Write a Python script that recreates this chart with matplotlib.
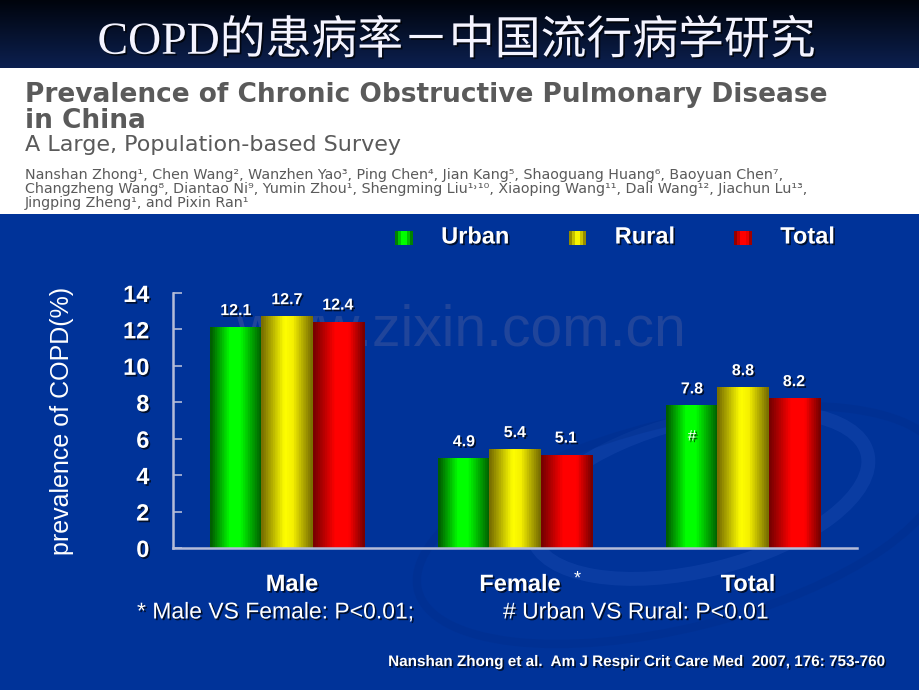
import numpy as np
import matplotlib
matplotlib.use("Agg")
import matplotlib.pyplot as plt
import matplotlib.patheffects as pe
from matplotlib import font_manager
from matplotlib.colors import LinearSegmentedColormap
from matplotlib.patches import Rectangle, Patch, Ellipse
from matplotlib.legend_handler import HandlerBase
from matplotlib.transforms import ScaledTranslation

# ---------------- data ----------------
groups = ["Male", "Female", "Total"]
series = ["Urban", "Rural", "Total"]
urban = [12.1, 4.9, 7.8]
rural = [12.7, 5.4, 8.8]
total = [12.4, 5.1, 8.2]
yticks = [0, 2, 4, 6, 8, 10, 12, 14]

BG = "#003399"
AXC = "#b4bcd8"
names = {f.name for f in font_manager.fontManager.ttflist}
NARROW = "Liberation Sans Narrow" if "Liberation Sans Narrow" in names else "Liberation Sans"
SANS = "Liberation Sans"
shadow = [pe.withSimplePatchShadow(offset=(1.2, -1.2), shadow_rgbFace="black", alpha=0.7)]

# gradient "cylinder" colour maps (dark edge -> bright centre -> dark edge)
cmaps = [
    LinearSegmentedColormap.from_list("g", [(0, "#005f00"), (0.38, "#00ff00"), (0.58, "#00ff00"), (1, "#006400")]),
    LinearSegmentedColormap.from_list("y", [(0, "#7a7000"), (0.45, "#ffff00"), (0.62, "#f5f000"), (1, "#7a7000")]),
    LinearSegmentedColormap.from_list("r", [(0, "#7a0000"), (0.42, "#ff0000"), (0.7, "#ff0000"), (1, "#7a0000")]),
]
steps = 22
grad = (np.floor(np.linspace(0, 1, 200) * steps) / (steps - 1)).clip(0, 1)[None, :]

fig = plt.figure(figsize=(9.2, 6.9), dpi=100, facecolor=BG)

# background decoration + watermark
bg = fig.add_axes([0, 0, 1, 1], zorder=-5)
bg.set_xlim(0, 920)
bg.set_ylim(690, 0)
bg.axis("off")
bg.add_patch(Ellipse((700, 495), 345, 150, angle=-14, fill=False, ec="#0d3fa5", lw=10, alpha=0.8))
bg.add_patch(Ellipse((680, 525), 540, 205, angle=-14, fill=False, ec="#002c88", lw=6, alpha=0.35))
bg.text(461, 345, "www.zixin.com.cn", ha="center", va="baseline", fontsize=41,
        color="#20459b", family=SANS)

# title band
tb = fig.add_axes([0, 1 - 68 / 690, 1, 68 / 690])
tgrad = np.linspace(0, 1, 100)[:, None]
tb.imshow(tgrad, aspect="auto", cmap=LinearSegmentedColormap.from_list("t", ["#00040c", "#0c2050"]),
          extent=[0, 1, 1, 0])
tb.axis("off")
fig.text(457 / 920, 1 - 42 / 690, "COPD的患病率－中国流行病学研究", ha="center", va="center",
         fontsize=33, color="#f4f4ff", family=["Liberation Serif", "Noto Sans CJK SC"],
         path_effects=shadow)

# paper header band
wb = fig.add_axes([0, 1 - 214 / 690, 1, 146 / 690])
wb.set_facecolor("white")
wb.set_xticks([])
wb.set_yticks([])
for s in wb.spines.values():
    s.set_visible(False)
hdr = dict(transform=fig.transFigure, color="#5a5a5a", family="DejaVu Sans", va="center")
fig.text(25 / 920, 1 - 95 / 690, "Prevalence of Chronic Obstructive Pulmonary Disease", fontsize=19,
         fontweight="bold", **hdr)
fig.text(25 / 920, 1 - 121 / 690, "in China", fontsize=19, fontweight="bold", **hdr)
fig.text(25 / 920, 1 - 145 / 690, "A Large, Population-based Survey", fontsize=16, **hdr)
authors = ["Nanshan Zhong¹, Chen Wang², Wanzhen Yao³, Ping Chen⁴, Jian Kang⁵, Shaoguang Huang⁶, Baoyuan Chen⁷,",
           "Changzheng Wang⁸, Diantao Ni⁹, Yumin Zhou¹, Shengming Liu¹˒¹⁰, Xiaoping Wang¹¹, Dali Wang¹², Jiachun Lu¹³,",
           "Jingping Zheng¹, and Pixin Ran¹"]
for i, line in enumerate(authors):
    fig.text(25 / 920, 1 - (175 + 14 * i) / 690, line, fontsize=10.3, **hdr)

# ---------------- chart ----------------
ax = fig.add_axes([173 / 920, 1 - 548 / 690, 684 / 920, 255 / 690])
ax.patch.set_visible(False)
x = np.arange(len(groups))
width = 0.2237
values = [urban, rural, total]
for k, (vals, cm) in enumerate(zip(values, cmaps)):
    bars = ax.bar(x + (k - 1) * width, vals, width, color="none", edgecolor="none", zorder=2)
    for b, v in zip(bars, vals):
        x0 = b.get_x()
        ax.imshow(grad, aspect="auto", cmap=cm, vmin=0, vmax=1,
                  extent=[x0, x0 + b.get_width(), 0, b.get_height()], zorder=2)
        ax.annotate(f"{v}", (x0 + b.get_width() / 2, v), xytext=(0, 9), textcoords="offset points",
                    ha="center", va="baseline", fontsize=11.5, fontweight="bold", color="white",
                    family=SANS, path_effects=shadow)
ax.annotate("#", (x[2] - width, urban[2]), xytext=(0, -22), textcoords="offset points",
            ha="center", va="center", fontsize=11, color="white", family=SANS, path_effects=shadow)

ax.set_xlim(-0.5, 2.5)
ax.set_ylim(0, 14)
ax.set_yticks(yticks)
ax.set_xticks(x)
ax.set_xticklabels(groups)
for s in ["top", "right"]:
    ax.spines[s].set_visible(False)
for s in ["left", "bottom"]:
    ax.spines[s].set_color(AXC)
    ax.spines[s].set_linewidth(1.8)
ax.tick_params(axis="y", direction="in", length=6.5, width=1.2, color=AXC, pad=17,
               labelsize=17, labelcolor="white")
ax.tick_params(axis="x", length=0, pad=18, labelsize=17, labelcolor="white")
off = ScaledTranslation(5 / 100, 0, fig.dpi_scale_trans)
for lab in ax.get_yticklabels() + ax.get_xticklabels():
    lab.set_fontweight("bold")
    lab.set_family(SANS)
    lab.set_path_effects(shadow)
for lab in ax.get_xticklabels():
    lab.set_transform(lab.get_transform() + off)
    lab.set_family(NARROW)
    lab.set_fontsize(19 if NARROW != SANS else 17)

fig.text(62 / 920, 1 - 421 / 690, "prevalence of COPD(%)", rotation=90, ha="center", va="center",
         fontsize=18, color="white", family=SANS)
fig.text(577 / 920, 1 - 579 / 690, "*", ha="center", va="center", fontsize=13, color="white", family=SANS)


# legend with striped squares
class GradHandler(HandlerBase):
    def __init__(self, cm):
        super().__init__()
        self.cm = cm

    def create_artists(self, legend, orig_handle, xd, yd, w, h, fontsize, trans):
        n = 6
        return [Rectangle((xd + w * i / n, yd), w / n, h, fc=self.cm((i + 0.5) / n), ec="none",
                          transform=trans) for i in range(n)]


handles = [Patch(label=s) for s in series]
leg = fig.legend(handles=handles, loc="center", bbox_to_anchor=(615 / 920, 1 - 237 / 690), ncol=3,
                 frameon=False, handler_map={h: GradHandler(c) for h, c in zip(handles, cmaps)},
                 prop=dict(family=SANS, weight="bold", size=17), handlelength=0.75, handleheight=0.55,
                 handletextpad=1.2, columnspacing=2.5)
for t in leg.get_texts():
    t.set_color("white")
    t.set_path_effects(shadow)

# footnotes
fsz = 20 if NARROW != SANS else 16.5
fig.text(137 / 920, 1 - 612 / 690, "* Male VS Female: P<0.01;", ha="left", va="center", fontsize=fsz,
         color="white", family=NARROW, path_effects=shadow)
fig.text(503 / 920, 1 - 612 / 690, "# Urban VS Rural: P<0.01", ha="left", va="center", fontsize=fsz,
         color="white", family=NARROW, path_effects=shadow)
fig.text(885 / 920, 1 - 662 / 690, "Nanshan Zhong et al.  Am J Respir Crit Care Med  2007, 176: 753-760",
         ha="right", va="center", fontsize=13 if NARROW != SANS else 11, fontweight="bold",
         color="white", family=NARROW, path_effects=shadow)

fig.savefig("out.png", dpi=100, facecolor=BG)
